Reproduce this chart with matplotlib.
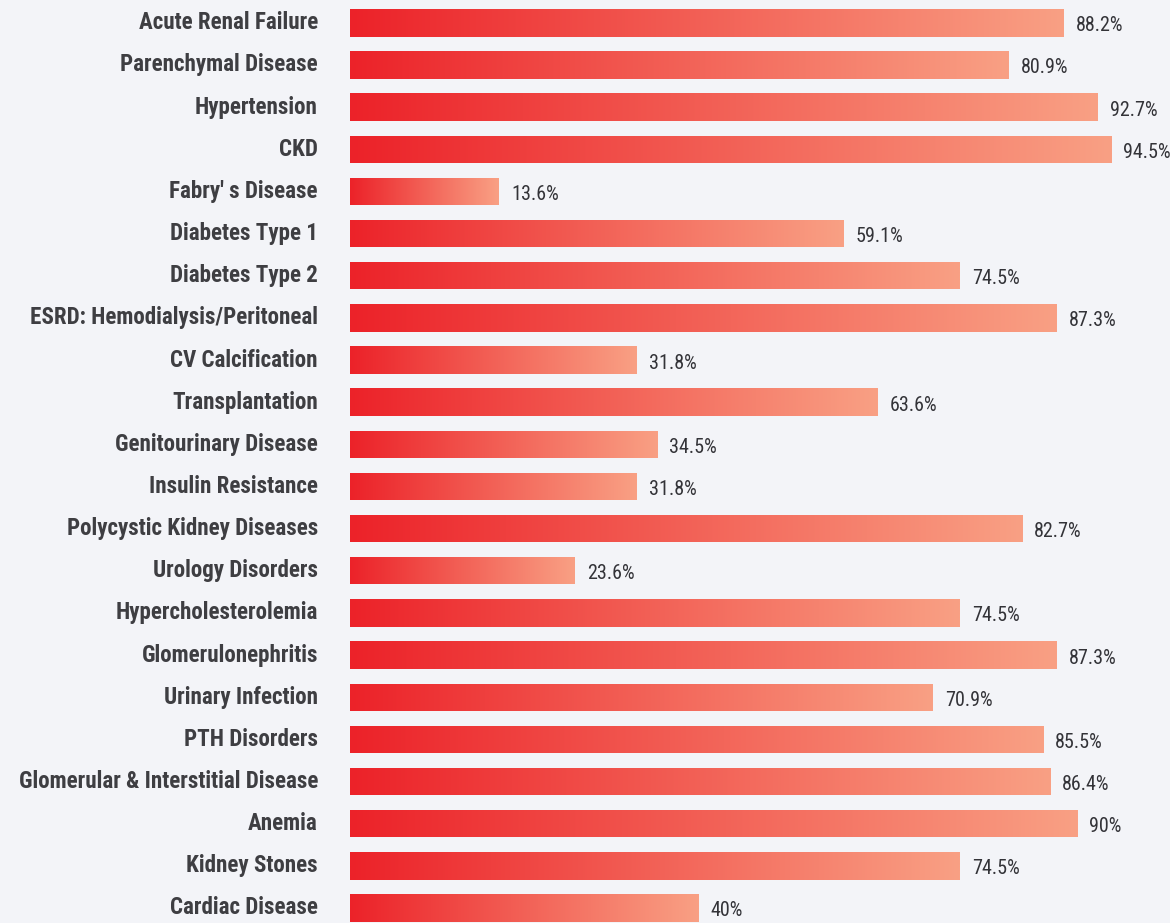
import matplotlib
matplotlib.use("Agg")
import matplotlib.pyplot as plt
import numpy as np
from matplotlib import font_manager
from matplotlib.colors import LinearSegmentedColormap

categories = [
    "Acute Renal Failure", "Parenchymal Disease", "Hypertension", "CKD",
    "Fabry\u2032 s Disease", "Diabetes Type 1", "Diabetes Type 2",
    "ESRD: Hemodialysis/Peritoneal", "CV Calcification", "Transplantation",
    "Genitourinary Disease", "Insulin Resistance", "Polycystic Kidney Diseases",
    "Urology Disorders", "Hypercholesterolemia", "Glomerulonephritis",
    "Urinary Infection", "PTH Disorders", "Glomerular & Interstitial Disease",
    "Anemia", "Kidney Stones", "Cardiac Disease",
]
values = [88.2, 80.9, 92.7, 94.5, 13.6, 59.1, 74.5, 87.3, 31.8, 63.6, 34.5,
          31.8, 82.7, 23.6, 74.5, 87.3, 70.9, 85.5, 86.4, 90, 74.5, 40]
value_labels = ["88.2%", "80.9%", "92.7%", "94.5%", "13.6%", "59.1%", "74.5%",
                "87.3%", "31.8%", "63.6%", "34.5%", "31.8%", "82.7%", "23.6%",
                "74.5%", "87.3%", "70.9%", "85.5%", "86.4%", "90%", "74.5%", "40%"]

# pick a condensed face if one is installed
names = {f.name for f in font_manager.fontManager.ttflist}
family = "DejaVu Sans"
for cand in ["Roboto Condensed", "Liberation Sans Narrow", "DejaVu Sans Condensed",
             "Open Sans Condensed", "Noto Sans"]:
    if cand in names:
        family = cand
        break

bg = "#f3f4f8"
cmap = LinearSegmentedColormap.from_list("bar", ["#ec2229", "#f9a084"])

fig = plt.figure(figsize=(11.7, 9.23), dpi=100, facecolor=bg)
ax = fig.add_axes([0, 0, 1, 1])
ax.set_facecolor(bg)

base = -6.08
y = np.arange(len(categories))
bars = ax.barh(y, np.array(values) - base, left=base, height=0.65, color="none")

# gradient fill, red -> salmon along each bar
grad = np.linspace(0, 1, 256).reshape(1, -1)
for b in bars:
    x0, y0, w, h = b.get_x(), b.get_y(), b.get_width(), b.get_height()
    im = ax.imshow(grad, cmap=cmap, extent=(x0, x0 + w, y0 + h, y0),
                   aspect="auto", interpolation="bilinear", zorder=2)
    im.set_clip_path(b)

ax.set_xlim(-52.31, 102.25)
ax.set_ylim(21.356, -0.541)

for yi, (cat, v, lab) in enumerate(zip(categories, values, value_labels)):
    ax.annotate(cat, (base, yi), xytext=(-32, 0), textcoords="offset pixels",
                ha="right", va="center", fontsize=16.6, fontweight="bold",
                color="#3e3e42", family=family)
    ax.annotate(lab, (v, yi), xytext=(12, -3), textcoords="offset pixels",
                ha="left", va="center", fontsize=14.5, color="#333338",
                family=family)

ax.axis("off")
fig.savefig("out.png", dpi=100, facecolor=bg)
